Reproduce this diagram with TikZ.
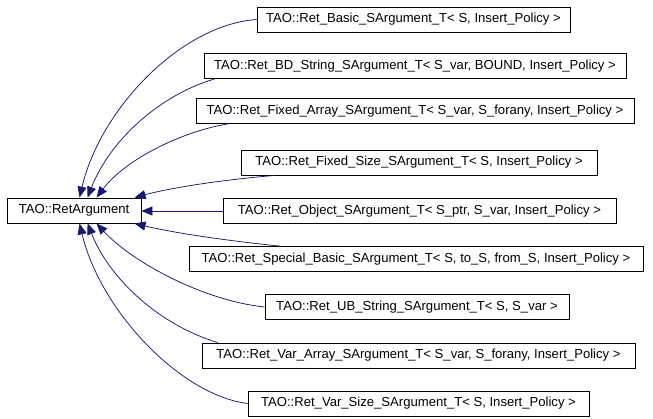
\documentclass[tikz,border=0pt]{standalone}
\usepackage{fontspec}
\setmainfont{Liberation Sans}
\usetikzlibrary{arrows.meta}
\definecolor{edgecol}{HTML}{191970}
\tikzset{
  cls/.style={draw=black, line width=0.9pt, fill=white, inner sep=0pt, minimum height=25pt,
    font=\fontsize{13.1}{15}\selectfont, anchor=center},
  edge/.style={draw=edgecol, line width=0.75pt, -{Triangle[length=11pt,width=9pt]}, fill=none},
}
\begin{document}
\begin{tikzpicture}[x=1pt,y=-1pt]
\useasboundingbox[fill=white] (0,0) rectangle (653,419);
\node[cls, minimum width=134pt] (L) at (74,210.5) {TAO::RetArgument};
\node[cls, minimum width=313pt] (b1) at (413.5,19.5) {TAO::Ret\_Basic\_SArgument\_T< S, Insert\_Policy >};
\node[cls, minimum width=422pt] (b2) at (415,66) {TAO::Ret\_BD\_String\_SArgument\_T< S\_var, BOUND, Insert\_Policy >};
\node[cls, minimum width=438pt] (b3) at (415,111) {TAO::Ret\_Fixed\_Array\_SArgument\_T< S\_var, S\_forany, Insert\_Policy >};
\node[cls, minimum width=356pt] (b4) at (419,162.5) {TAO::Ret\_Fixed\_Size\_SArgument\_T< S, Insert\_Policy >};
\node[cls, minimum width=393pt] (b5) at (419.5,211) {TAO::Ret\_Object\_SArgument\_T< S\_ptr, S\_var, Insert\_Policy >};
\node[cls, minimum width=454pt] (b6) at (416,259) {TAO::Ret\_Special\_Basic\_SArgument\_T< S, to\_S, from\_S, Insert\_Policy >};
\node[cls, minimum width=304pt] (b7) at (417,307) {TAO::Ret\_UB\_String\_SArgument\_T< S, S\_var >};
\node[cls, minimum width=433pt] (b8) at (418.5,355.5) {TAO::Ret\_Var\_Array\_SArgument\_T< S\_var, S\_forany, Insert\_Policy >};
\node[cls, minimum width=341pt] (b9) at (418.5,403.5) {TAO::Ret\_Var\_Size\_SArgument\_T< S, Insert\_Policy >};

\coordinate (t1) at ([xshift=73pt]L.north west);
\coordinate (t2) at ([xshift=81pt]L.north west);
\coordinate (t3) at ([xshift=90pt]L.north west);
\coordinate (t4) at ([xshift=128pt]L.north west);
\coordinate (t6) at ([xshift=128pt]L.south west);
\coordinate (t7) at ([xshift=90pt]L.south west);
\coordinate (t8) at ([xshift=81pt]L.south west);
\coordinate (t9) at ([xshift=73pt]L.south west);
\coordinate (s2) at ([xshift=11pt]b2.south west);
\coordinate (s3) at ([xshift=32pt]b3.south west);
\coordinate (s4) at ([xshift=34pt]b4.south west);
\coordinate (s6) at ([xshift=91pt]b6.north west);
\coordinate (s8) at ([xshift=16pt]b8.north west);

\draw[edge] (b1.west) .. controls (180,25) and (100,110) .. (t1);
\draw[edge] (s2) .. controls (160,95) and (110,140) .. (t2);
\draw[edge] (s3) .. controls (180,132) and (125,160) .. (t3);
\draw[edge] (s4) .. controls (220,180) and (170,188) .. (t4);
\draw[edge] (b5.west) -- (L.east |- b5.west);
\draw[edge] (s6) .. controls (220,240) and (170,232) .. (t6);
\draw[edge] (b7.west) .. controls (200,300) and (130,260) .. (t7);
\draw[edge] (s8) .. controls (160,325) and (110,280) .. (t8);
\draw[edge] (b9.west) .. controls (180,395) and (100,310) .. (t9);
\end{tikzpicture}
\end{document}
